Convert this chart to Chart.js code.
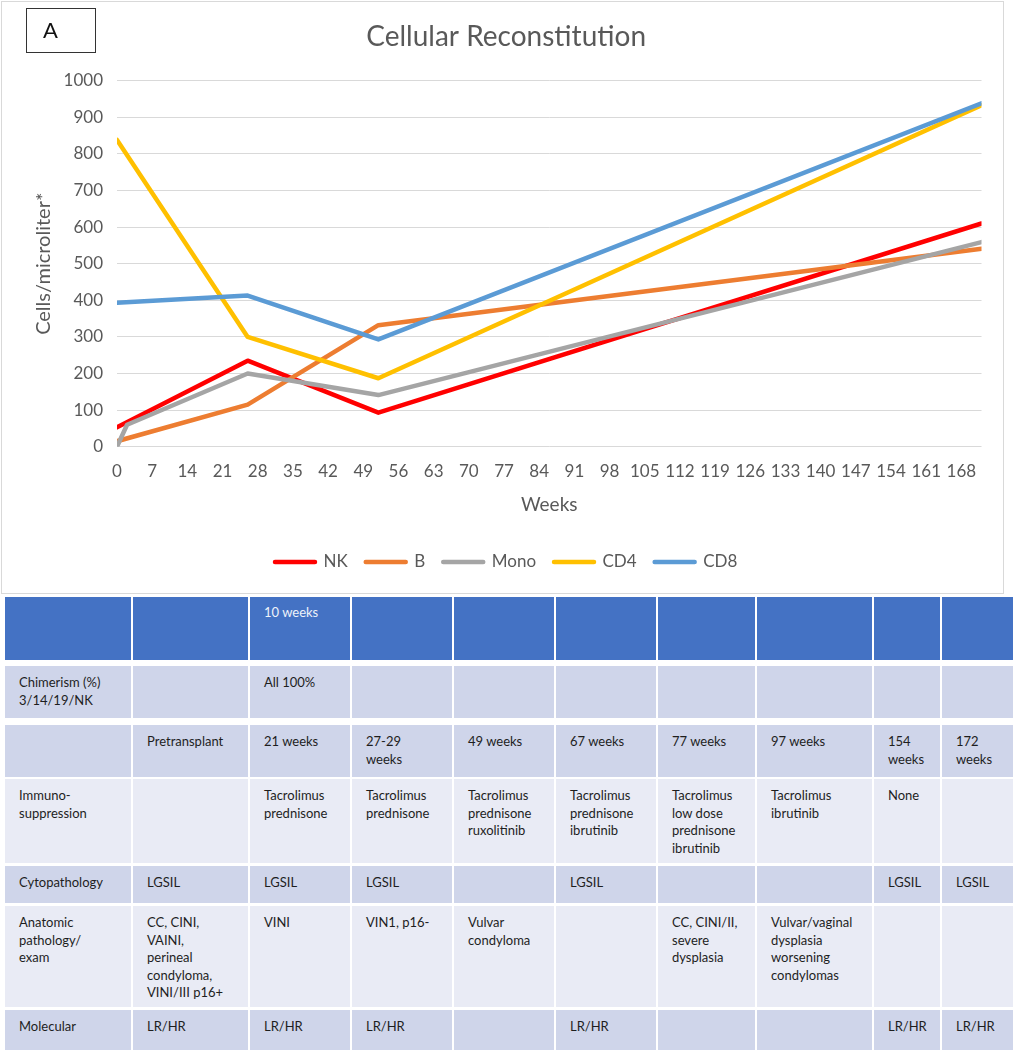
<!DOCTYPE html>
<html lang="en">
<head>
  <meta charset="UTF-8" />
  <title>Cellular Reconstitution</title>
  <script src="https://cdn.jsdelivr.net/npm/chart.js"></script>
  <style>
    body { margin: 0; padding: 0; background: #fff; width: 1013px; height: 1050px; overflow: hidden; position: relative; font-family: Lato, sans-serif; }
    #chartBox { position: absolute; left: 1px; top: 1px; width: 1001px; height: 591px; border: 1px solid #d9d9d9; }
    #chartBox canvas { display: block; }
    #panelTag { position: absolute; left: 26px; top: 8px; width: 70px; height: 45px; border: 1.5px solid #333; font-size: 22px; line-height: 42px; padding-left: 16px; box-sizing: border-box; color: #111; }
    table { position: absolute; left: 3px; top: 597px; width: 1021px; border-collapse: separate; border-spacing: 2px 0; font-size: 13px; color: #1e1e1e; table-layout: fixed; }
    td { vertical-align: top; padding: 8px 4px 0 14px; line-height: 17.5px; box-sizing: border-box; background-clip: padding-box; border-top: 0 solid #fff; }
    tr.head td { background: #4472c4; color: #eef2fa; padding-top: 7px; }
    tr.dark td { background: #cfd5ea; }
    tr.light td { background: #e9ebf5; }
  </style>
</head>
<body>
  <div id="chartBox"><canvas id="recon" width="1001" height="591"></canvas></div>
  <div id="panelTag">A</div>
  <table id="timeline"></table>

  <script>
    // cell counts (cells/microliter) at week marks
    const weeks = [0, 26, 52, 172];
    const monoWeeks = [0, 2, 26, 52, 172];
    const nkVals = [53, 235, 93, 610];
    const bVals = [15, 115, 332, 541];
    const monoVals = [0, 60, 200, 141, 559];
    const cd4Vals = [838, 300, 187, 933];
    const cd8Vals = [393, 413, 293, 938];

    const seriesNames = ['NK', 'B', 'Mono', 'CD4', 'CD8'];
    const seriesColors = ['#ff0000', '#ed7d31', '#a5a5a5', '#ffc000', '#5b9bd5'];

    // table under the chart
    const colWidths = [126, 115, 100, 100, 100, 100, 97, 115, 66, 80];
    const rowHeights = [63, 52, 52, 84, 37, 101, 40];
    const rowGaps = [0, 6, 7, 2, 3, 3, 3];
    const rowClass = ['head', 'dark', 'dark', 'light', 'dark', 'light', 'dark'];
    const tableRows = [
      ['', '', '10 weeks', '', '', '', '', '', '', ''],
      ['Chimerism (%)<br>3/14/19/NK', '', 'All 100%', '', '', '', '', '', '', ''],
      ['', 'Pretransplant', '21 weeks', '27-29<br>weeks', '49 weeks', '67 weeks', '77 weeks', '97 weeks', '154<br>weeks', '172<br>weeks'],
      ['Immuno-<br>suppression', '', 'Tacrolimus<br>prednisone', 'Tacrolimus<br>prednisone', 'Tacrolimus<br>prednisone<br>ruxolitinib', 'Tacrolimus<br>prednisone<br>ibrutinib', 'Tacrolimus<br>low dose<br>prednisone<br>ibrutinib', 'Tacrolimus<br>ibrutinib', 'None', ''],
      ['Cytopathology', 'LGSIL', 'LGSIL', 'LGSIL', '', 'LGSIL', '', '', 'LGSIL', 'LGSIL'],
      ['Anatomic<br>pathology/<br>exam', 'CC, CINI,<br>VAINI,<br>perineal<br>condyloma,<br>VINI/III p16+', 'VINI', 'VIN1, p16-', 'Vulvar<br>condyloma', '', 'CC, CINI/II,<br>severe<br>dysplasia', 'Vulvar/vaginal<br>dysplasia<br>worsening<br>condylomas', '', ''],
      ['Molecular', 'LR/HR', 'LR/HR', 'LR/HR', '', 'LR/HR', '', '', 'LR/HR', 'LR/HR']
    ];

    const tbl = document.getElementById('timeline');
    const cg = document.createElement('colgroup');
    colWidths.forEach(w => { const c = document.createElement('col'); c.style.width = w + 'px'; cg.appendChild(c); });
    tbl.appendChild(cg);
    tableRows.forEach((row, r) => {
      const tr = document.createElement('tr');
      tr.className = rowClass[r];
      const h = rowHeights[r] + rowGaps[r];
      tr.style.height = h + 'px';
      row.forEach(txt => {
        const td = document.createElement('td');
        td.innerHTML = txt;
        td.style.height = h + 'px';
        td.style.borderTopWidth = rowGaps[r] + 'px';
        tr.appendChild(td);
      });
      tbl.appendChild(tr);
    });

    const textGrey = '#595959';
    const toPoints = (xs, ys) => xs.map((x, i) => ({ x: x, y: ys[i] }));
    const seriesData = [
      toPoints(weeks, nkVals),
      toPoints(weeks, bVals),
      toPoints(monoWeeks, monoVals),
      toPoints(weeks, cd4Vals),
      toPoints(weeks, cd8Vals)
    ];

    new Chart(document.getElementById('recon'), {
      type: 'line',
      data: {
        datasets: seriesNames.map((name, i) => ({
          label: name,
          data: seriesData[i],
          borderColor: seriesColors[i],
          backgroundColor: seriesColors[i],
          borderWidth: 4.5,
          borderCapStyle: 'round',
          borderJoinStyle: 'round',
          pointRadius: 0,
          tension: 0,
          order: seriesNames.length - 1 - i
        }))
      },
      options: {
        responsive: false,
        animation: false,
        layout: { padding: { left: 28.8, right: 21.5, top: 0, bottom: 12.5 } },
        plugins: {
          title: {
            display: true,
            text: 'Cellular Reconstitution',
            color: textGrey,
            font: { family: 'Lato', size: 28, weight: 'normal' },
            padding: { top: 18.2, bottom: 26.9 }
          },
          legend: {
            position: 'bottom',
            labels: {
              boxWidth: 40,
              boxHeight: 0,
              padding: 18,
              color: textGrey,
              font: { family: 'Lato', size: 17 },
              sort: (a, b) => a.datasetIndex - b.datasetIndex
            }
          },
          tooltip: { enabled: false }
        },
        scales: {
          x: {
            type: 'linear',
            min: 0,
            max: 172,
            afterFit: s => { s.height = 88.8; },
            grid: { display: false, drawTicks: false },
            border: { display: false },
            ticks: {
              stepSize: 7, includeBounds: false, autoSkip: false, maxRotation: 0,
              padding: 15, color: textGrey, font: { family: 'Lato', size: 17 }
            },
            title: {
              display: true, text: 'Weeks', color: textGrey,
              font: { family: 'Lato', size: 19 }, padding: { top: 0, bottom: 19 }
            }
          },
          y: {
            min: 0,
            max: 1000,
            afterFit: s => { s.width = 86.2; },
            grid: { color: '#d9d9d9', lineWidth: 1, drawTicks: false },
            border: { display: false },
            ticks: {
              stepSize: 100, padding: 14, color: textGrey, font: { family: 'Lato', size: 17 },
              callback: v => String(v)
            },
            title: {
              display: true, text: 'Cells/microliter*', color: textGrey,
              font: { family: 'Lato', size: 20 }, padding: { top: 1.2, bottom: 0 }
            }
          }
        }
      }
    });
  </script>
</body>
</html>
